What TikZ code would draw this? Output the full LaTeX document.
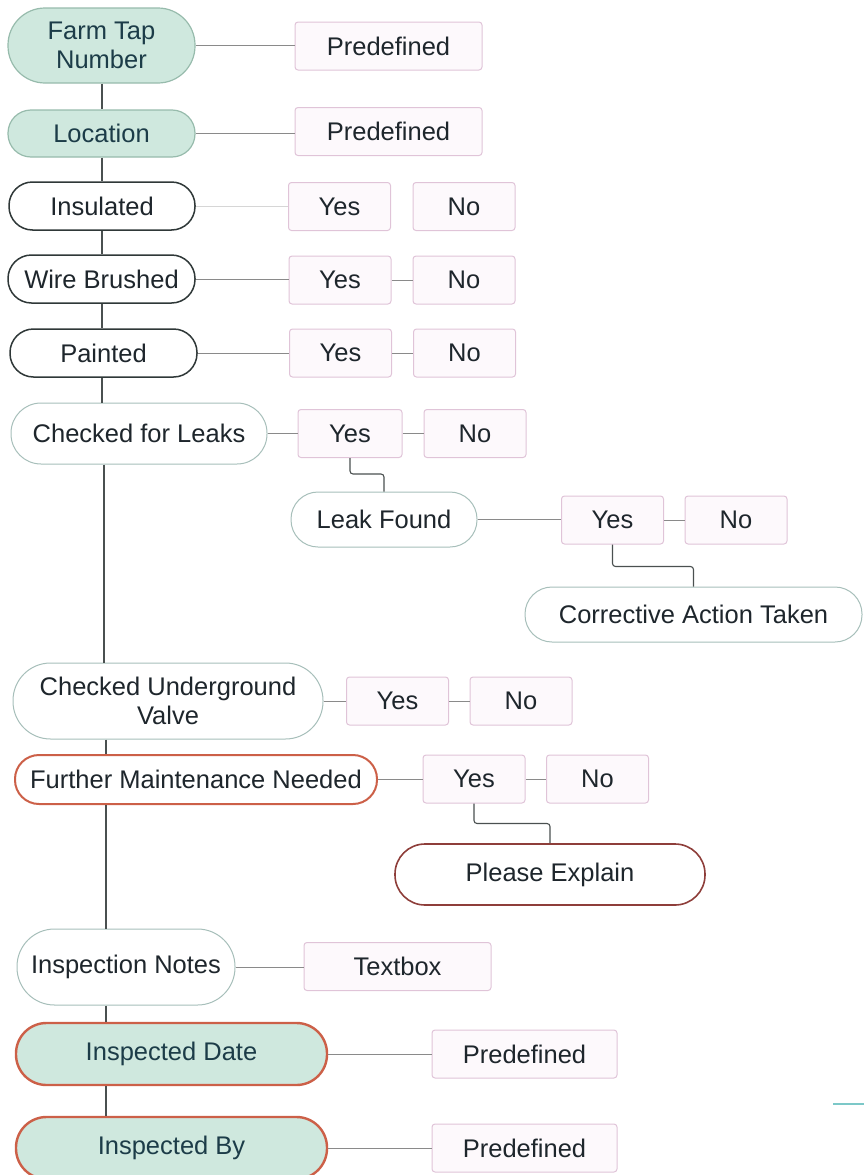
\documentclass[tikz,border=0pt]{standalone}
\usepackage{fontspec}
\setmainfont{Liberation Sans}
\usetikzlibrary{calc}
\definecolor{txt}{HTML}{1E262C}
\definecolor{gtxt}{HTML}{1C3C48}
\definecolor{mint}{HTML}{CFE8DE}
\definecolor{mintline}{HTML}{97BBAC}
\definecolor{darkline}{HTML}{2F3838}
\definecolor{lightline}{HTML}{A7BFBA}
\definecolor{redline}{HTML}{CC6048}
\definecolor{explline}{HTML}{8E3E3A}
\definecolor{pinkline}{HTML}{E0C4D8}
\definecolor{pinkfill}{HTML}{FDF9FC}
\definecolor{connc}{HTML}{8A8A8A}
\definecolor{spinec}{HTML}{4A5050}
\definecolor{tealart}{HTML}{7CC8C8}
\begin{document}
\begin{tikzpicture}[x=1pt,y=-1pt,
  base/.style={font=\fontsize{25.5}{29}\selectfont, text=txt, align=center, inner sep=0pt},
  pill/.style n args={2}{base, minimum width=#1, minimum height=#2, rounded corners=#2/2-0.5},
  greenpill/.style n args={2}{pill={#1}{#2}, draw=mintline, line width=1.2pt, fill=mint, text=gtxt},
  greenred/.style n args={2}{pill={#1}{#2}, draw=redline, line width=2.4pt, fill=mint, text=gtxt},
  darkpill/.style n args={2}{pill={#1}{#2}, draw=darkline, line width=1.5pt, fill=white},
  lightpill/.style n args={2}{pill={#1}{#2}, draw=lightline, line width=1pt, fill=white},
  redpill/.style n args={2}{pill={#1}{#2}, draw=redline, line width=2pt, fill=white},
  explpill/.style n args={2}{pill={#1}{#2}, draw=explline, line width=1.6pt, fill=white},
  answer/.style={base, draw=pinkline, fill=pinkfill, line width=1pt, rounded corners=3, minimum height=48},
  yesno/.style={answer, minimum width=102},
  widebox/.style={answer, minimum width=187},
  conn/.style={draw=connc, line width=0.8pt},
  faint/.style={draw=connc!35, line width=0.6pt},
  elbow/.style={draw=spinec, line width=1.1pt, rounded corners=3},
  spine/.style={draw=spinec, line width=1.1pt}
]
\useasboundingbox (0,0) rectangle (864,1175);

% spine x positions
\coordinate (sA) at (102,0);
\coordinate (sB) at (104,0);
\coordinate (sC) at (106,0);

% left column
\node[greenpill={187}{75}] (ft) at (101.5,45.5) {Farm Tap\\Number};
\node[greenpill={187}{47}] (loc) at (101.5,133.5) {Location};
\node[darkpill={186}{48}] (ins) at (102,206) {Insulated};
\node[darkpill={187}{48}] (wb) at (101.5,279) {Wire Brushed};
\node[darkpill={187}{48}] (pa) at (103.5,353) {Painted};
\node[lightpill={256}{61}] (cfl) at (139,433.5) {Checked for Leaks};
\node[lightpill={310}{76}] (cuv) at (168,701) {Checked Underground\\Valve};
\node[redpill={362}{49}] (fmn) at (196,779.5) {Further Maintenance Needed};
\node[lightpill={218}{76}] (inn) at (126,967) {Inspection Notes};
\node[greenred={311}{62}] (idate) at (171.5,1054) {Inspected Date};
\node[greenred={311}{62}] (iby) at (171.5,1148) {Inspected By};

% secondary nodes
\node[lightpill={186}{55}] (lf) at (384,519.5) {Leak Found};
\node[lightpill={337}{55}] (cat) at (693.5,614.5) {Corrective Action Taken};
\node[explpill={310}{61}] (pe) at (550,874.5) {Please Explain};

% answer boxes
\node[widebox] (pd1) at (388.5,46) {Predefined};
\node[widebox] (pd2) at (388.5,131.5) {Predefined};
\node[yesno] (y1) at (339.5,206.5) {Yes};
\node[yesno] (n1) at (464,206.5) {No};
\node[yesno] (y2) at (340,280) {Yes};
\node[yesno] (n2) at (464,280) {No};
\node[yesno] (y3) at (340.5,353) {Yes};
\node[yesno] (n3) at (464.5,353) {No};
\node[yesno, minimum width=104] (y4) at (350,433.5) {Yes};
\node[yesno] (n4) at (475,433.5) {No};
\node[yesno] (y5) at (612.5,520) {Yes};
\node[yesno] (n5) at (736,520) {No};
\node[yesno] (y6) at (397.5,701) {Yes};
\node[yesno] (n6) at (521,701) {No};
\node[yesno] (y7) at (474,779) {Yes};
\node[yesno] (n7) at (597.5,779) {No};
\node[widebox] (tb) at (397.5,966.5) {Textbox};
\node[widebox, minimum width=185] (pd3) at (524.5,1054) {Predefined};
\node[widebox, minimum width=185] (pd4) at (524.5,1148) {Predefined};

% spine
\draw[spine] (ft.south -| sA) -- (loc.north -| sA);
\draw[spine] (loc.south -| sA) -- (ins.north -| sA);
\draw[spine] (ins.south -| sA) -- (wb.north -| sA);
\draw[spine] (wb.south -| sA) -- (pa.north -| sA);
\draw[spine] (pa.south -| sA) -- (cfl.north -| sA);
\draw[spine] (cfl.south -| sB) -- (cuv.north -| sB);
\draw[spine] (cuv.south -| sC) -- (fmn.north -| sC);
\draw[spine] (fmn.south -| sC) -- (inn.north -| sC);
\draw[spine] (inn.south -| sC) -- (idate.north -| sC);
\draw[spine] (idate.south -| sC) -- (iby.north -| sC);

% horizontal connectors
\draw[conn] (ft.east) -- (ft.east -| pd1.west);
\draw[conn] (loc.east) -- (loc.east -| pd2.west);
\draw[faint] (ins.east) -- (ins.east -| y1.west);
\draw[conn] (wb.east) -- (wb.east -| y2.west);
\draw[conn] (y2.east) -- (n2.west);
\draw[conn] (pa.east) -- (pa.east -| y3.west);
\draw[conn] (y3.east) -- (n3.west);
\draw[conn] (cfl.east) -- (cfl.east -| y4.west);
\draw[conn] (y4.east) -- (n4.west);
\draw[conn] (lf.east) -- (lf.east -| y5.west);
\draw[conn] (y5.east) -- (n5.west);
\draw[conn] (cuv.east) -- (cuv.east -| y6.west);
\draw[conn] (y6.east) -- (n6.west);
\draw[conn] (fmn.east) -- (fmn.east -| y7.west);
\draw[conn] (y7.east) -- (n7.west);
\draw[conn] (inn.east) -- (inn.east -| tb.west);
\draw[conn] (idate.east) -- (idate.east -| pd3.west);
\draw[conn] (iby.east) -- (iby.east -| pd4.west);

% elbow connectors
\draw[elbow] (y4.south) -- ++(0,16) -| (lf.north);
\draw[elbow] (y5.south) -- ++(0,22) -| (cat.north);
\draw[elbow] (y7.south) -- ++(0,20) -| (pe.north);

% small teal mark at right edge
\coordinate (t1) at (833,1104);
\coordinate (t2) at (864,1104);
\draw[draw=tealart, line width=1.5pt] (t1) -- (t2);
\end{tikzpicture}
\end{document}
